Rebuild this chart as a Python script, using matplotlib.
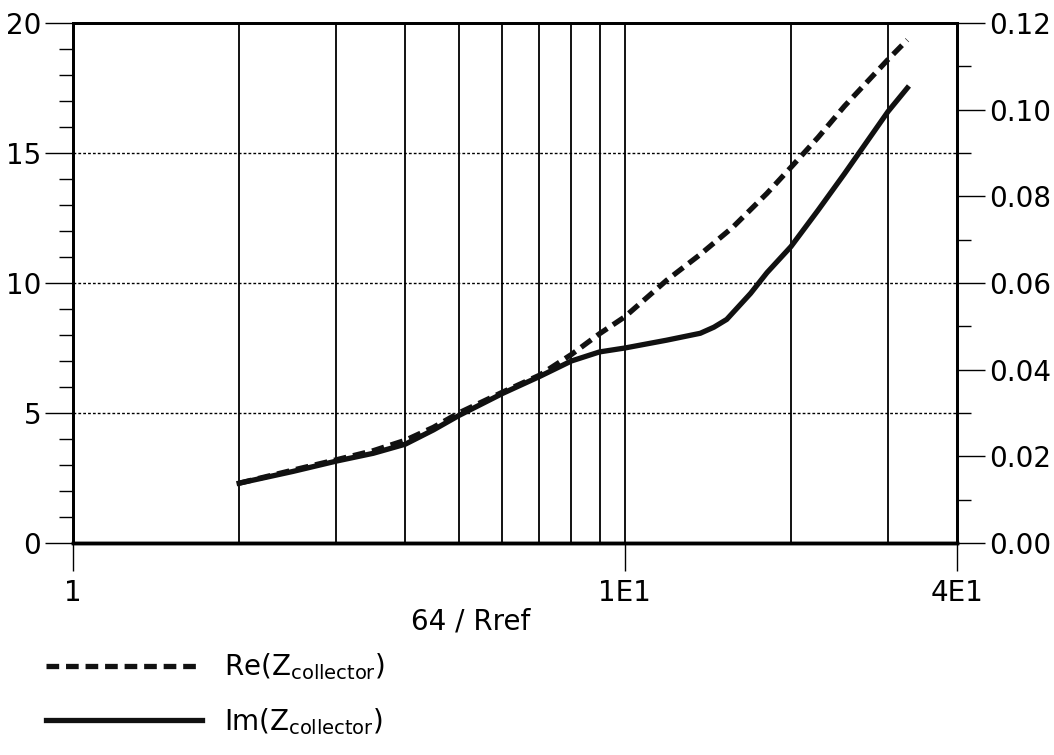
import numpy as np
import matplotlib.pyplot as plt
from matplotlib.ticker import FixedLocator, MultipleLocator, NullFormatter

# datos
x_re = [2, 2.5, 3, 3.5, 4, 4.5, 5, 6, 7, 8, 9, 10, 11.9, 13.7, 15.7, 18.1, 20, 22.4, 25, 30, 32.5]
re_z = [2.3, 2.8, 3.2, 3.55, 3.95, 4.45, 5.0, 5.8, 6.45, 7.25, 8.05, 8.7, 10.1, 11.1, 12.15, 13.45, 14.45, 15.6, 16.8, 18.6, 19.35]

x_im = [2, 2.5, 3, 3.5, 4, 4.5, 5, 6, 7, 8, 9, 10, 11.9, 13.7, 14.5, 15.3, 16.9, 18.1, 20, 22.4, 25, 30, 32.5]
im_z = [0.0138, 0.0165, 0.0189, 0.0207, 0.0228, 0.0261, 0.0294, 0.0345, 0.0384, 0.042, 0.0441, 0.045,
        0.0468, 0.0484, 0.0498, 0.0516, 0.0576, 0.0624, 0.0684, 0.0768, 0.0852, 0.0996, 0.105]

x_ticks = [1, 10, 40]
x_labels = ["1", "1E1", "4E1"]
x_grid = [2, 3, 4, 5, 6, 7, 8, 9, 10, 20, 30]

plt.rcParams['font.family'] = ['DejaVu Sans']
plt.rcParams['mathtext.fontset'] = 'dejavusans'
fs = 20

fig = plt.figure(figsize=(10.54, 7.55), dpi=100)
ax = fig.add_axes([0.0693, 0.2808, 0.8387, 0.6887])
ax2 = ax.twinx()

ax.set_xscale('log')
ax.set_xlim(1, 40)
ax.set_ylim(0, 20)
ax2.set_ylim(0, 0.12)

# rejilla vertical
for xv in x_grid:
    ax.axvline(xv, color='black', lw=1.3, zorder=1)
# rejilla horizontal punteada
for yv in [5, 10, 15]:
    ax.axhline(yv, color='black', lw=1.0, ls=(0, (2, 1.5)), zorder=1)

l_re, = ax.plot(x_re, re_z, color='#111111', lw=3.8, ls=(0, (2.4, 1.3)), zorder=3)
l_im, = ax2.plot(x_im, im_z, color='#111111', lw=3.8, zorder=3)

ax.xaxis.set_major_locator(FixedLocator(x_ticks))
ax.set_xticklabels(x_labels)
ax.xaxis.set_minor_locator(FixedLocator(x_grid))
ax.xaxis.set_minor_formatter(NullFormatter())
ax.tick_params(axis='x', which='minor', length=0)
ax.tick_params(axis='x', which='major', length=20, width=1, direction='out', labelsize=fs, pad=6)

ax.yaxis.set_major_locator(MultipleLocator(5))
ax.yaxis.set_minor_locator(MultipleLocator(1))
ax.tick_params(axis='y', which='major', length=20, width=1, labelsize=fs, pad=3)
ax.tick_params(axis='y', which='minor', length=10, width=1)

ax2.yaxis.set_minor_locator(MultipleLocator(0.01))
ax2.set_yticks(np.arange(0, 0.121, 0.02))
ax2.set_yticklabels([f"{v:.2f}" for v in np.arange(0, 0.121, 0.02)])
ax2.tick_params(axis='y', which='major', length=20, width=1, labelsize=fs, pad=3)
ax2.tick_params(axis='y', which='minor', length=10, width=1)

for a in (ax, ax2):
    a.spines['left'].set_linewidth(2)
    a.spines['bottom'].set_linewidth(2.5)
    a.spines['right'].set_linewidth(2)
    a.spines['top'].set_linewidth(2)

ax.set_xlabel("64 / Rref", fontsize=fs)
ax.xaxis.set_label_coords(0.45, -0.125)

fig.legend([l_re, l_im],
           [r"Re(Z$_{\mathregular{collector}}$)", r"Im(Z$_{\mathregular{collector}}$)"],
           loc='upper left', bbox_to_anchor=(0.02, 0.17), frameon=False,
           fontsize=fs, handlelength=5.6, handletextpad=0.8, labelspacing=0.85)

fig.savefig("out.png", dpi=100)
